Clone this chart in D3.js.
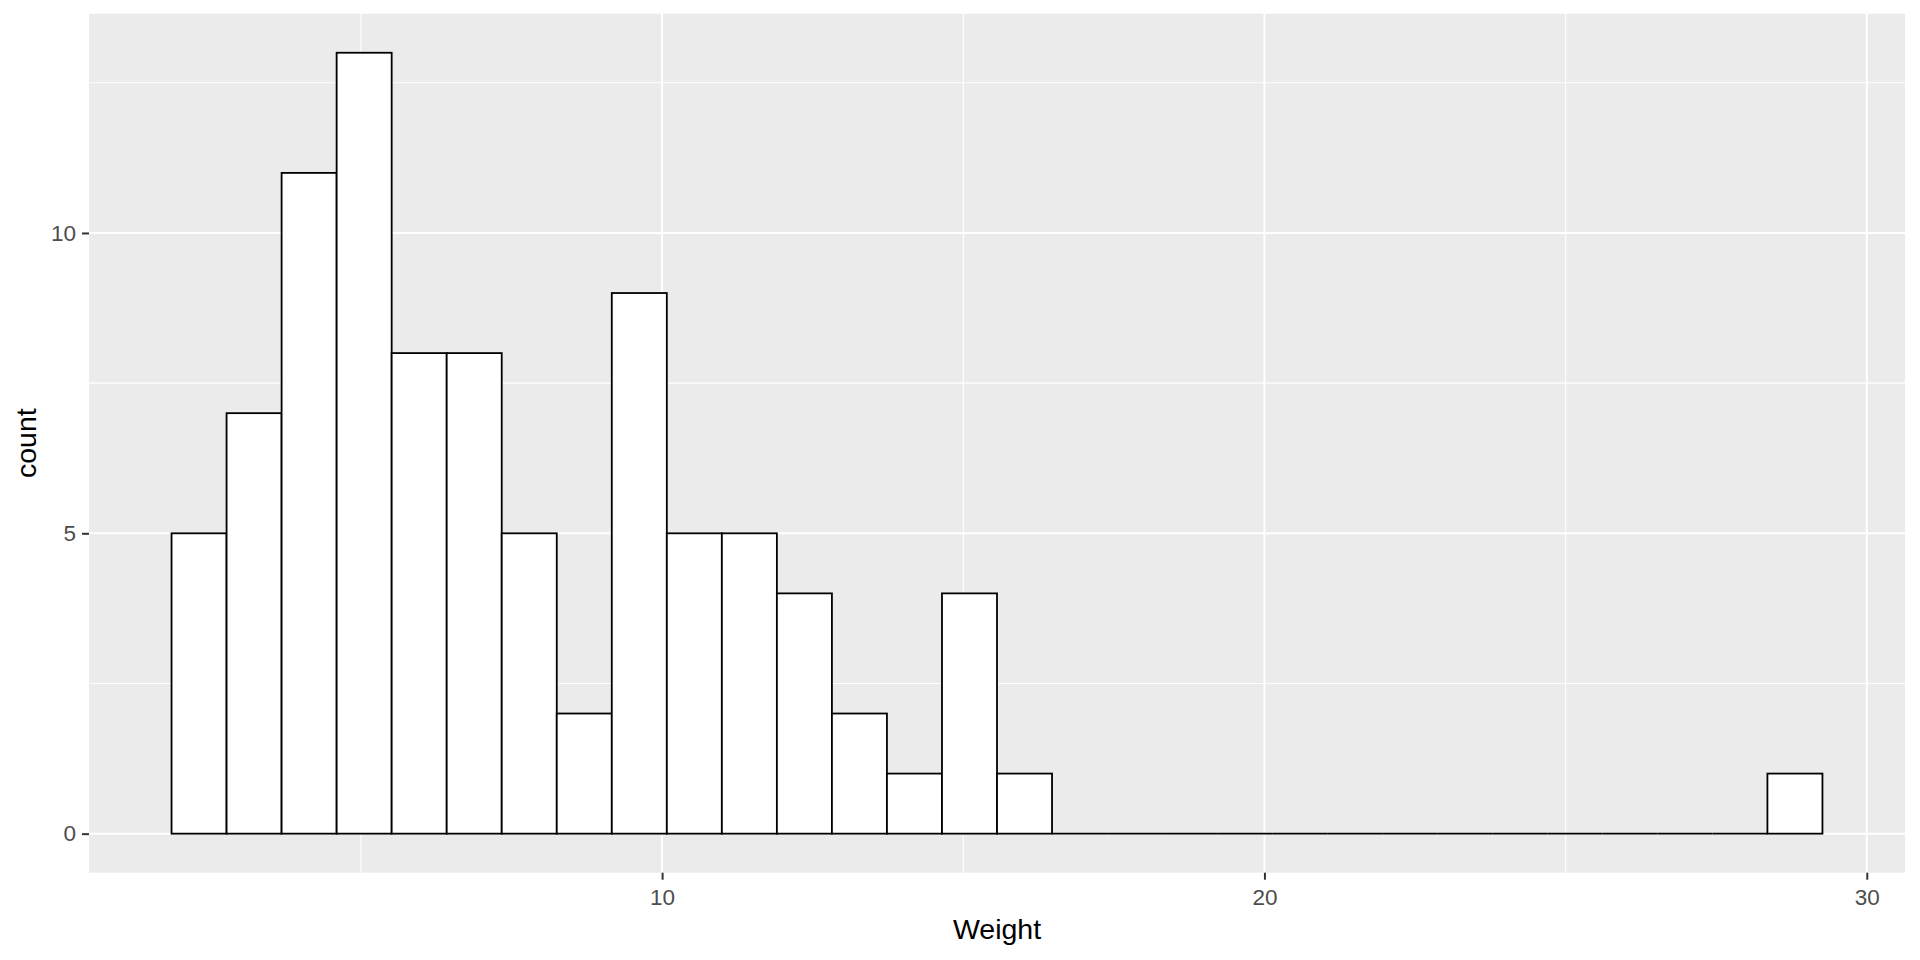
<!DOCTYPE html>
<html>
<head>
<meta charset="utf-8">
<script src="https://cdn.jsdelivr.net/npm/d3@7"></script>
<style>
  html, body { margin: 0; padding: 0; background: #ffffff; }
  svg { display: block; }
  text { font-family: "Liberation Sans", Arial, sans-serif; }
</style>
</head>
<body>
<svg id="chart" width="1920" height="960"></svg>
<script>
// ---- data ----
const binStart = 1.856;      // left edge of first bin (Weight)
const binWidth = 0.9136;     // width of each bin
const counts = [5, 7, 11, 13, 8, 8, 5, 2, 9, 5, 5, 4, 2, 1, 4, 1,
                0, 0, 0, 0, 0, 0, 0, 0, 0, 0, 0, 0, 0, 1];
const xTicks = [10, 20, 30];
const xMinorTicks = [5, 15, 25];
const yTicks = [0, 5, 10];
const yMinorTicks = [2.5, 7.5, 12.5];
const xLabel = "Weight";
const yLabel = "count";

// ---- layout ----
const W = 1920, H = 960;
const margin = { top: 13.7, right: 15, bottom: 87.3, left: 89 };
const pw = W - margin.left - margin.right;
const ph = H - margin.top - margin.bottom;

const bins = counts.map((c, i) => ({
  x0: binStart + i * binWidth,
  x1: binStart + (i + 1) * binWidth,
  count: c
}));

const xLo = bins[0].x0, xHi = bins[bins.length - 1].x1;
const xPad = (xHi - xLo) * 0.05;
const yMax = d3.max(counts);
const yPad = yMax * 0.05;

const x = d3.scaleLinear().domain([xLo - xPad, xHi + xPad]).range([0, pw]);
const y = d3.scaleLinear().domain([-yPad, yMax + yPad]).range([ph, 0]);

const svg = d3.select("#chart");
const g = svg.append("g").attr("transform", `translate(${margin.left},${margin.top})`);

// panel background
g.append("rect").attr("width", pw).attr("height", ph).attr("fill", "#EBEBEB");

// minor grid
g.selectAll(".xminor").data(xMinorTicks).enter().append("line")
  .attr("x1", d => x(d)).attr("x2", d => x(d)).attr("y1", 0).attr("y2", ph)
  .attr("stroke", "#ffffff").attr("stroke-width", 1.1);
g.selectAll(".yminor").data(yMinorTicks).enter().append("line")
  .attr("y1", d => y(d)).attr("y2", d => y(d)).attr("x1", 0).attr("x2", pw)
  .attr("stroke", "#ffffff").attr("stroke-width", 1.1);
// major grid
g.selectAll(".xmajor").data(xTicks).enter().append("line")
  .attr("x1", d => x(d)).attr("x2", d => x(d)).attr("y1", 0).attr("y2", ph)
  .attr("stroke", "#ffffff").attr("stroke-width", 2);
g.selectAll(".ymajor").data(yTicks).enter().append("line")
  .attr("y1", d => y(d)).attr("y2", d => y(d)).attr("x1", 0).attr("x2", pw)
  .attr("stroke", "#ffffff").attr("stroke-width", 2);

// bars (non-empty bins as rectangles)
g.selectAll(".bar").data(bins.filter(d => d.count > 0)).enter().append("rect")
  .attr("class", "bar")
  .attr("x", d => x(d.x0))
  .attr("y", d => y(d.count))
  .attr("width", d => x(d.x1) - x(d.x0))
  .attr("height", d => y(0) - y(d.count))
  .attr("fill", "#ffffff")
  .attr("stroke", "#000000")
  .attr("stroke-width", 1.8);

// empty bins: zero-height bars render as a black line at 0
g.selectAll(".zero").data(bins.filter(d => d.count === 0)).enter().append("line")
  .attr("class", "zero")
  .attr("x1", d => x(d.x0))
  .attr("x2", d => x(d.x1))
  .attr("y1", y(0))
  .attr("y2", y(0))
  .attr("stroke", "#000000")
  .attr("stroke-width", 1.8);

// axes
const xAxis = d3.axisBottom(x).tickValues(xTicks).tickSize(7).tickPadding(9).tickFormat(d3.format("d"));
const yAxis = d3.axisLeft(y).tickValues(yTicks).tickSize(7).tickPadding(6).tickFormat(d3.format("d"));

const gx = g.append("g").attr("transform", `translate(0,${ph})`).call(xAxis);
const gy = g.append("g").call(yAxis);
[gx, gy].forEach(ax => {
  ax.select(".domain").remove();
  ax.selectAll(".tick line").attr("stroke", "#333333").attr("stroke-width", 2);
  ax.selectAll(".tick text").attr("fill", "#4D4D4D")
    .style("font-size", "22.5px").style("font-family", "'Liberation Sans', Arial, sans-serif");
});

// axis titles
svg.append("text")
  .attr("x", margin.left + pw / 2).attr("y", 939)
  .attr("text-anchor", "middle")
  .attr("fill", "#000000")
  .style("font-size", "28.5px")
  .text(xLabel);

svg.append("text")
  .attr("transform", `translate(36,${margin.top + ph / 2}) rotate(-90)`)
  .attr("text-anchor", "middle")
  .attr("fill", "#000000")
  .style("font-size", "28.5px")
  .text(yLabel);
</script>
</body>
</html>
